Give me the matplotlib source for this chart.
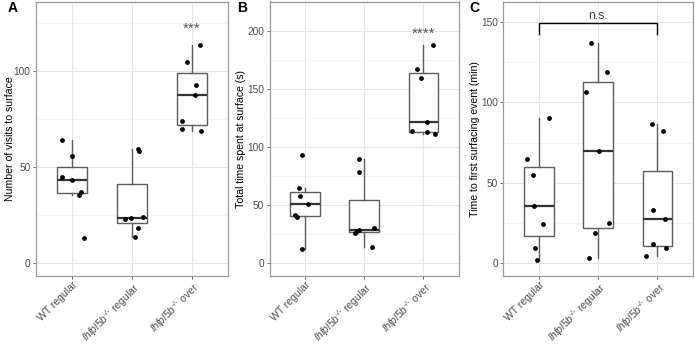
import matplotlib
matplotlib.use("Agg")
import matplotlib.pyplot as plt
import numpy as np

plt.rcParams['font.family'] = ['Liberation Sans', 'DejaVu Sans']
plt.rcParams['mathtext.fontset'] = 'custom'
plt.rcParams['mathtext.rm'] = 'Liberation Sans'
plt.rcParams['mathtext.it'] = 'Liberation Sans:italic'
plt.rcParams['mathtext.bf'] = 'Liberation Sans:bold'

categories = ["WT regular", r"$\mathit{lhfpl5b}^{\text{-/-}}$ regular", r"$\mathit{lhfpl5b}^{\text{-/-}}$ over"]

# Panel A: number of visits to surface
visits_wt = [64.3, 55.7, 44.8, 43.2, 37.3, 35.8, 13.3]
visits_reg = [59.6, 58.5, 22.9, 23.7, 24.3, 18.7, 13.8]
visits_over = [113.5, 104.8, 93.0, 87.4, 73.9, 69.8, 68.8]
jit_visits = [[-0.17, 0.0, -0.17, 0.0, 0.15, 0.11, 0.2],
              [0.095, 0.12, -0.12, -0.02, 0.19, 0.1, 0.045],
              [0.13, -0.09, 0.06, 0.05, -0.17, -0.17, 0.15]]

# Panel B: total time spent at surface (s)
time_wt = [93.4, 65.1, 58.0, 51.3, 41.8, 39.5, 12.6]
time_reg = [90.0, 78.4, 28.5, 28.0, 26.0, 30.5, 14.1]
time_over = [188.0, 167.5, 159.7, 121.4, 113.8, 113.0, 111.0]
jit_time = [[-0.045, -0.095, -0.08, 0.055, -0.17, -0.14, -0.055],
            [-0.09, -0.09, -0.09, -0.13, -0.15, 0.16, 0.13],
            [0.16, -0.11, -0.05, 0.06, -0.2, 0.06, 0.2]]

# Panel C: time to first surfacing event (min)
first_wt = [90.1, 64.8, 54.6, 35.7, 24.7, 9.7, 2.1]
first_reg = [136.9, 119.1, 106.4, 70.0, 25.3, 18.7, 3.1]
first_over = [86.4, 82.0, 33.2, 27.8, 12.0, 9.7, 4.4]
jit_first = [[0.17, -0.2, -0.11, -0.08, 0.06, -0.06, -0.04],
             [-0.12, 0.14, -0.2, 0.02, 0.18, -0.05, -0.15],
             [-0.1, 0.1, -0.07, 0.13, -0.08, 0.15, -0.2]]

W, H = 695, 344
fig = plt.figure(figsize=(W / 100, H / 100), dpi=100)

panels = [
    dict(data=[visits_wt, visits_reg, visits_over], jit=jit_visits,
         ylabel="Number of visits to surface", ylim=(-6.5, 136.2),
         major=[0, 50, 100], minor=[25, 75, 125],
         px=(36, 228), letter="A", letter_x=12.5, ylab_x=10,
         sig=("***", 122)),
    dict(data=[time_wt, time_reg, time_over], jit=jit_time,
         ylabel="Total time spent at surface (s)", ylim=(-11, 225.6),
         major=[0, 50, 100, 150, 200], minor=[25, 75, 125, 175, 225],
         px=(269.5, 459), letter="B", letter_x=242, ylab_x=241,
         sig=("****", 198)),
    dict(data=[first_wt, first_reg, first_over], jit=jit_first,
         ylabel="Time to first surfacing event (min)", ylim=(-7.9, 162.6),
         major=[0, 50, 100, 150], minor=[25, 75, 125],
         px=(503.5, 693), letter="C", letter_x=474, ylab_x=475,
         sig=None),
]

top_px, bot_px = 1.5, 276
tick_col = '#4d4d4d'
for p in panels:
    l, r = p["px"]
    ax = fig.add_axes([l / W, 1 - bot_px / H, (r - l) / W, (bot_px - top_px) / H])

    ax.boxplot(p["data"], positions=[1, 2, 3], widths=0.5, whis=1.5,
               showfliers=False, patch_artist=True, showcaps=False,
               manage_ticks=False,
               boxprops=dict(facecolor='white', edgecolor='#5c5c5c', lw=1.0),
               whiskerprops=dict(color='#5c5c5c', lw=1.0),
               medianprops=dict(color='#333333', lw=1.6), zorder=2)
    for i, (vals, jit) in enumerate(zip(p["data"], p["jit"])):
        ax.scatter(np.array(jit) + i + 1, vals, s=12, color='black', zorder=3, lw=0)

    ax.set_xlim(0.4, 3.6)
    ax.set_ylim(*p["ylim"])
    ax.set_yticks(p["major"])
    ax.set_yticks(p["minor"], minor=True)
    ax.set_xticks([1, 2, 3])
    ax.set_xticks([], minor=True)
    ax.grid(True, which='major', color='#e6e6e6', lw=0.8, zorder=0)
    ax.grid(True, which='minor', axis='y', color='#f2f2f2', lw=0.5, zorder=0)
    ax.set_axisbelow(True)
    for s in ax.spines.values():
        s.set_color('#9a9a9a')
        s.set_linewidth(0.9)
    ax.tick_params(axis='y', which='major', length=2.5, width=0.6, color='#555555',
                   labelsize=7.3, labelcolor=tick_col, pad=1.5)
    ax.tick_params(axis='x', which='major', length=2.5, width=0.6, color='#555555',
                   labelsize=7.5, labelcolor=tick_col, pad=0.3)
    ax.tick_params(axis='both', which='minor', length=0)

    ax.set_xticklabels(categories, rotation=45, ha='right', rotation_mode='anchor',
                       fontsize=7.5, color=tick_col)
    fig.text(p["ylab_x"] / W, 1 - ((top_px + bot_px) / 2) / H, p["ylabel"],
             rotation=90, ha='center', va='center', fontsize=7.6, color='black')
    fig.text(p["letter_x"] / W, 1 - 8.5 / H, p["letter"], ha='center', va='center',
             fontsize=10, fontweight='bold')
    if p["sig"] is not None:
        ax.text(3, p["sig"][1], p["sig"][0], ha='center', va='center',
                fontsize=11, color='#555555')
    else:
        ax.plot([1, 1, 3, 3], [142.7, 149.5, 149.5, 142.7], color='black', lw=1.0, zorder=4)
        ax.text(2, 153.8, "n.s.", ha='center', va='center', fontsize=8.8, color='#444444')

fig.savefig("out.png", dpi=100)
